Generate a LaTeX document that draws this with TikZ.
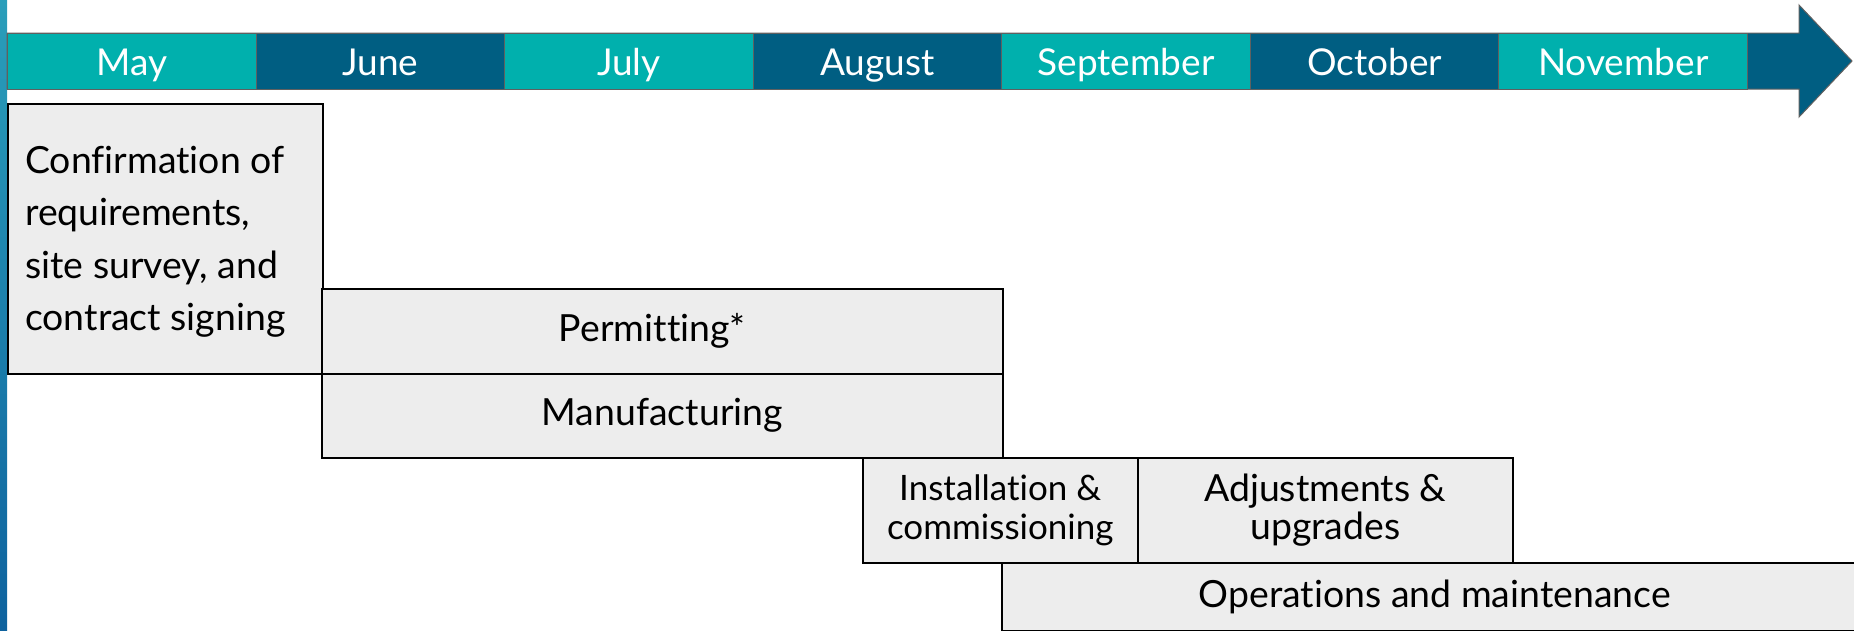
\documentclass[tikz,border=0pt]{standalone}
\usepackage{fontspec}
\setmainfont{Lato}[Ligatures=NoCommon]
\definecolor{teal1}{RGB}{0,176,173}
\definecolor{navy1}{RGB}{0,94,130}
\definecolor{boxfill}{RGB}{237,237,237}
\definecolor{cellline}{RGB}{96,96,96}
\definecolor{barTop}{RGB}{42,158,186}
\definecolor{barBot}{RGB}{14,98,158}
\begin{document}
\begin{tikzpicture}[x=1pt,y=-1pt,
 month/.style={draw=cellline, line width=1pt, minimum width=248.57pt, minimum height=56pt,
   inner sep=0pt, text=white, font=\fontsize{37}{44}\selectfont, text height=30pt, text depth=2pt,
   anchor=north west},
 task/.style={draw=black, line width=1.5pt, fill=boxfill, inner sep=0pt, anchor=north west,
   align=center, font=\fontsize{37.4}{38.7}\selectfont},
 tasktext/.style={inner sep=0pt, align=left, font=\fontsize{37.4}{52.4}\selectfont},
]
\useasboundingbox (0,0) rectangle (1854,630);
\clip (0,0) rectangle (1854,630);
% left accent bar
\shade[top color=barTop, bottom color=barBot] (0,0) rectangle (7,630);
% timeline arrow
\draw[fill=navy1, draw=cellline, line width=1pt]
  (7,33) -- (1799,33) -- (1799,5) -- (1852,61) -- (1799,117) -- (1799,89) -- (7,89) -- cycle;
% months
\node[month, fill=teal1] (may) at (7,33) {May};
\node[month, fill=navy1] (jun) at (255.57,33) {June};
\node[month, fill=teal1] (jul) at (504.14,33) {July};
\node[month, fill=navy1] (aug) at (752.71,33) {August};
\node[month, fill=teal1] (sep) at (1001.29,33) {September};
\node[month, fill=navy1] (oct) at (1249.86,33) {October};
\node[month, fill=teal1] (nov) at (1498.43,33) {November};
% tasks
\node[task, minimum width=315pt, minimum height=270pt] (confirm) at (7,103) {};
\node[tasktext, anchor=west, xshift=18pt, yshift=-3pt] (confirmtxt) at (confirm.west)
  {Confirmation of\\requirements,\\site survey, and\\contract signing};
\node[task, minimum width=681pt, minimum height=85pt] (permit) at (321,288) {Permitting*\kern20pt};
\node[task, minimum width=681pt, minimum height=84pt] (manuf) at (321,373) {Manufacturing};
\node[task, minimum width=275pt, minimum height=105pt, font=\fontsize{35}{38.7}\selectfont] (install) at (862,457) {Installation \&\\commissioning};
\node[task, minimum width=375pt, minimum height=105pt] (adjust) at (1137,457) {Adjustments \&\\upgrades};
\node[task, minimum width=866pt, minimum height=68pt] (ops) at (1001,562) {Operations and maintenance};
\end{tikzpicture}
\end{document}
